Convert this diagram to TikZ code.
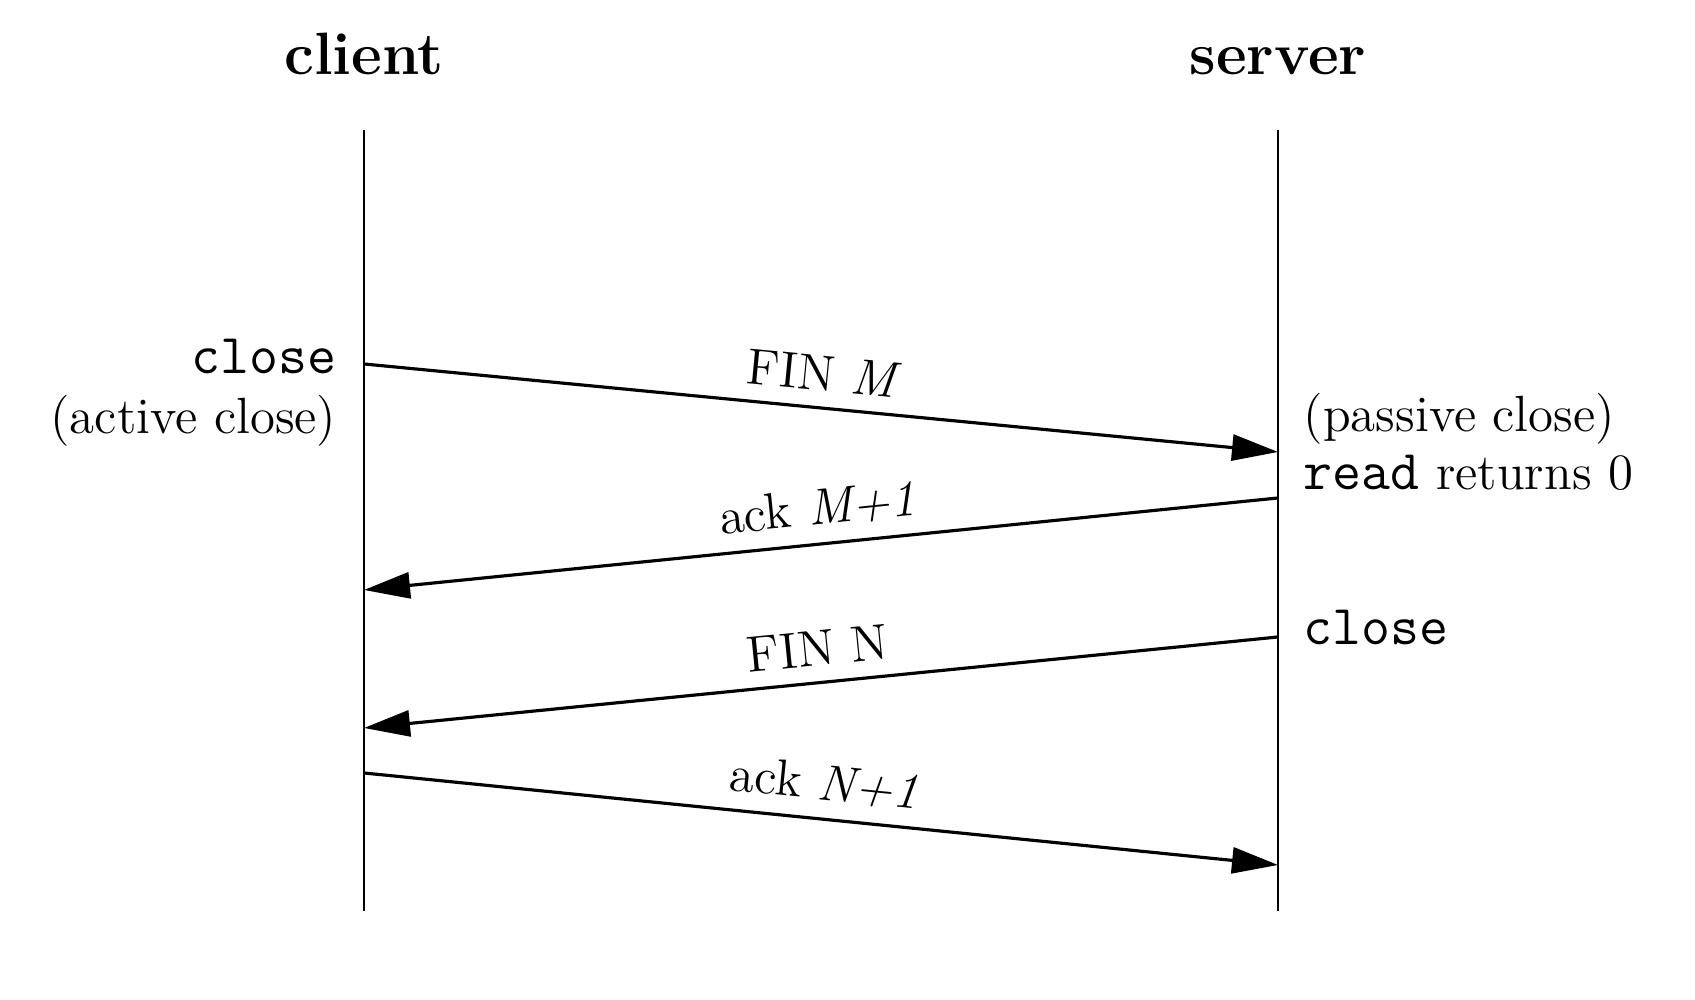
\documentclass[tikz,border=0pt]{standalone}
\usepackage{fontspec}
\usetikzlibrary{arrows.meta, positioning}

\newcommand{\cmd}[1]{{\fontsize{16}{19}\selectfont\ttfamily #1}}

\begin{document}
\begin{tikzpicture}[
  host/.style={font=\fontsize{17}{20}\selectfont\bfseries, anchor=base, inner sep=0pt},
  life/.style={line width=0.8pt},
  msg/.style={-{Triangle[length=4.6mm, width=2.6mm]}, line width=0.9pt},
  mlabel/.style={font=\fontsize{14.5}{17}\selectfont, midway, sloped, above=1pt},
  note/.style={font=\fontsize{14.5}{17}\selectfont, inner sep=0pt}
]
\useasboundingbox (0,0) rectangle (16.95,10);

% === Hosts ===
\node[host] (client) at (3.64,9.25) {client};
\node[host] (server) at (12.78,9.25) {server};

% === Lifelines ===
\coordinate (ctop) at (3.64,8.70);
\coordinate (cbot) at (3.64,0.89);
\coordinate (stop) at (12.78,8.70);
\coordinate (sbot) at (12.78,0.89);
\draw[life] (ctop) -- (cbot);
\draw[life] (stop) -- (sbot);

% === Message end points ===
\coordinate (c1) at (3.64,6.36);
\coordinate (s1) at (12.78,5.48);
\coordinate (s2) at (12.78,5.02);
\coordinate (c2) at (3.64,4.10);
\coordinate (s3) at (12.78,3.63);
\coordinate (c3) at (3.64,2.72);
\coordinate (c4) at (3.64,2.27);
\coordinate (s4) at (12.78,1.35);

% === Side notes ===
\node[note, anchor=base east] (cclose) at (3.37,6.26) {\cmd{close}};
\node[note, anchor=base east] (active) at (3.37,5.66) {(active close)};
\node[note, anchor=base west] (passive) at (13.03,5.68) {(passive close)};
\node[note, anchor=base west] (readret) at (13.03,5.10) {\cmd{read} returns 0};
\node[note, anchor=base west] (sclose) at (13.03,3.55) {\cmd{close}};

% === Segments ===
\draw[msg] (c1) -- node[mlabel] {FIN \textit{M}} (s1);
\draw[msg] (s2) -- node[mlabel] {ack \textit{M+1}} (c2);
\draw[msg] (s3) -- node[mlabel] {FIN N} (c3);
\draw[msg] (c4) -- node[mlabel] {ack \textit{N+1}} (s4);

\end{tikzpicture}
\end{document}
